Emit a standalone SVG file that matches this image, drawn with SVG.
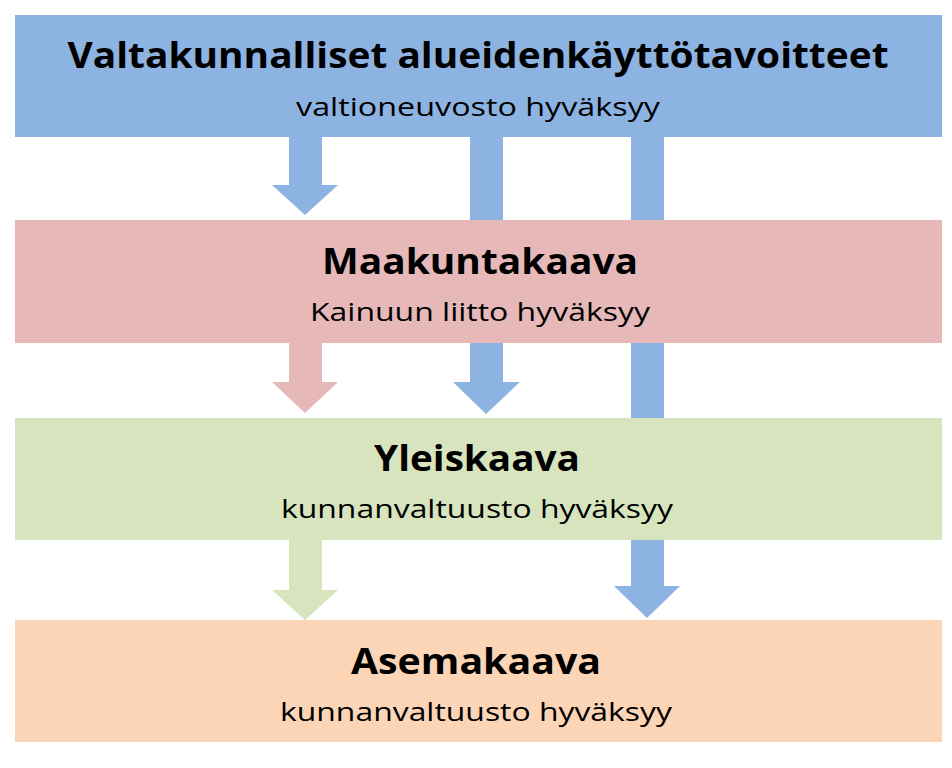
<svg xmlns="http://www.w3.org/2000/svg" width="952" height="768" viewBox="0 0 952 768">
<style>
.t{font-family:"Open Sans","Liberation Sans",sans-serif;font-weight:bold;font-size:36px;fill:#000;text-anchor:middle}
.s{font-family:"Open Sans","Liberation Sans",sans-serif;font-size:26px;fill:#000;text-anchor:middle}
.b{fill:#8DB3E2}
</style>
<rect width="952" height="768" fill="#fff"/>
<g id="connectors">
<path class="b" d="M289 137H322V185H338L305 215L272 185H289Z"/>
<rect class="b" x="470" y="137" width="33" height="90"/>
<path class="b" d="M470 340H503V382H520L486 414L453 382H470Z"/>
<rect class="b" x="631" y="137" width="33" height="285"/>
<path class="b" d="M631 538H664V586H680L647 618L614 586H631Z"/>
<path fill="#E6B9B8" d="M289 343H322V382H338L305 413L272 382H289Z"/>
<path fill="#D7E4BD" d="M289 540H322V590H338L305 620L272 590H289Z"/>
</g>
<g id="n1"><rect x="15" y="15" width="927" height="122" fill="#8DB3E2"/>
<text class="t" x="478" y="68" textLength="821" lengthAdjust="spacingAndGlyphs">Valtakunnalliset alueidenkäyttötavoitteet</text>
<text class="s" x="478" y="116" textLength="364" lengthAdjust="spacingAndGlyphs">valtioneuvosto  hyväksyy</text></g>
<g id="n2"><rect x="15" y="220" width="927" height="123" fill="#E6B9B8"/>
<text class="t" x="480" y="274" textLength="316" lengthAdjust="spacingAndGlyphs">Maakuntakaava</text>
<text class="s" x="480" y="321" textLength="340" lengthAdjust="spacingAndGlyphs">Kainuun  liitto  hyväksyy</text></g>
<g id="n3"><rect x="15" y="418" width="927" height="122" fill="#D7E4BD"/>
<text class="t" x="477" y="471" textLength="206" lengthAdjust="spacingAndGlyphs">Yleiskaava</text>
<text class="s" x="477" y="518" textLength="392" lengthAdjust="spacingAndGlyphs">kunnanvaltuusto  hyväksyy</text></g>
<g id="n4"><rect x="15" y="620" width="927" height="122" fill="#FBD5B5"/>
<text class="t" x="476" y="674" textLength="250" lengthAdjust="spacingAndGlyphs">Asemakaava</text>
<text class="s" x="476" y="721" textLength="392" lengthAdjust="spacingAndGlyphs">kunnanvaltuusto  hyväksyy</text></g>
</svg>
